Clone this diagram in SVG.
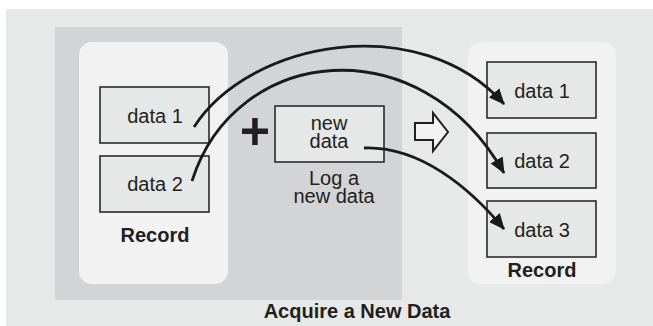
<svg xmlns="http://www.w3.org/2000/svg" width="653" height="326" viewBox="0 0 653 326">
<defs>
<style>
.box{fill:#e6e7e7;stroke:#2b2b2b;stroke-width:1.6}
.panel{fill:#f2f2f2}
.t{font-family:"Liberation Sans",Arial,sans-serif;font-size:20px;fill:#231f20;text-anchor:middle}
.b{font-weight:bold}
.c{fill:none;stroke:#1a1a1a;stroke-width:2.8}
</style>
<marker id="ah" markerUnits="userSpaceOnUse" markerWidth="16" markerHeight="14" viewBox="0 0 16 14" refX="15" refY="7" orient="auto">
<path d="M0,0 L16,7 L0,14 Z" fill="#1a1a1a"/>
</marker>
</defs>
<rect x="0" y="0" width="653" height="326" fill="#ffffff"/>
<rect x="6" y="9" width="647" height="317" fill="#e7e8e8"/>
<rect id="acquire" x="55" y="27" width="347" height="273" fill="#d3d4d5"/>
<g id="record-left">
<rect class="panel" x="79" y="42" width="149" height="242" rx="13"/>
<text class="t b" x="155" y="242">Record</text>
</g>
<g id="left-data1">
<rect class="box" x="100" y="87" width="109" height="56"/>
<text class="t" x="155" y="123">data 1</text>
</g>
<g id="left-data2">
<rect class="box" x="100" y="156" width="109" height="56"/>
<text class="t" x="155" y="191">data 2</text>
</g>
<g id="plus">
<rect x="242" y="128.5" width="26" height="5.5" fill="#231f20"/>
<rect x="252.2" y="118" width="5.5" height="27" fill="#231f20"/>
</g>
<g id="new-data">
<rect class="box" x="275" y="106" width="109" height="56"/>
<text class="t" x="329" y="130">new</text>
<text class="t" x="329" y="148">data</text>
<text class="t" x="334" y="185">Log a</text>
<text class="t" x="334" y="203">new data</text>
</g>
<g id="hollow-arrow">
<path d="M415,123 L433,123 L433,113 L448,132 L433,151 L433,140 L415,140 Z" fill="#f2f2f2" stroke="#231f20" stroke-width="2"/>
</g>
<g id="record-right">
<rect class="panel" x="468" y="42" width="148" height="242" rx="13"/>
<text class="t b" x="542" y="277">Record</text>
</g>
<g id="right-data1">
<rect class="box" x="487" y="62" width="109" height="56"/>
<text class="t" x="542" y="98">data 1</text>
</g>
<g id="right-data2">
<rect class="box" x="487" y="133" width="109" height="55"/>
<text class="t" x="542" y="168">data 2</text>
</g>
<g id="right-data3">
<rect class="box" x="487" y="201" width="109" height="56"/>
<text class="t" x="542" y="237">data 3</text>
</g>
<g id="connectors">
<path class="c" d="M194,127 C250,40 420,10 504,104" marker-end="url(#ah)"/>
<path class="c" d="M192,181 C235,45 420,25 504,173" marker-end="url(#ah)"/>
<path class="c" d="M364,148 C420,146 470,188 504,229" marker-end="url(#ah)"/>
</g>
<text class="t b" x="357" y="318">Acquire a New Data</text>
</svg>
